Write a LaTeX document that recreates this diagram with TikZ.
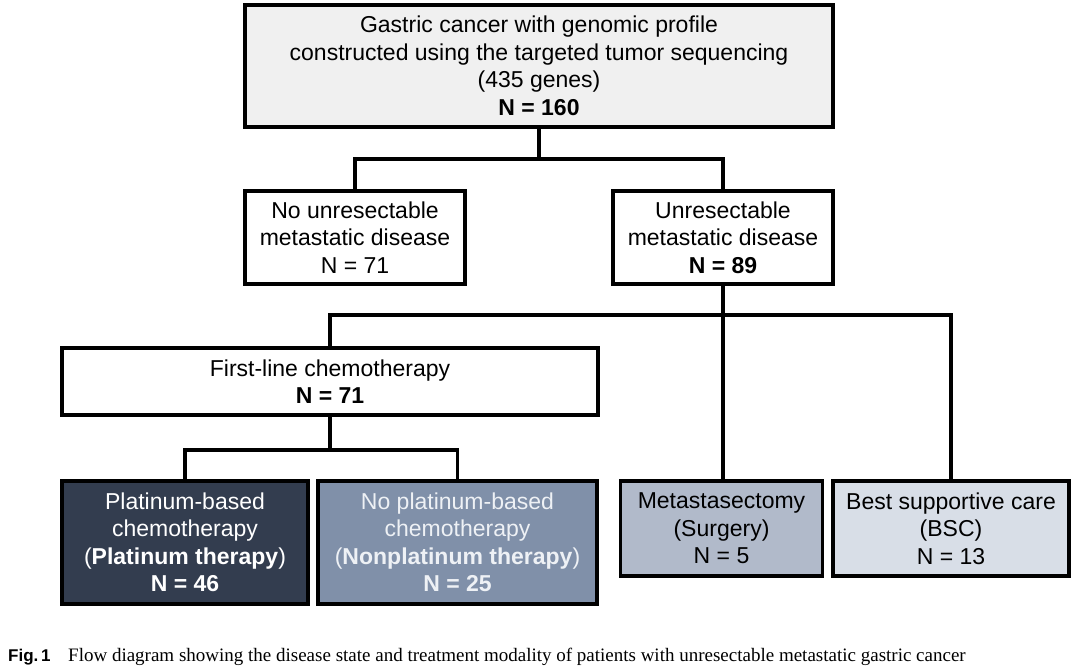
\documentclass[tikz,border=0pt]{standalone}
\usepackage{fontspec}
\setmainfont{Liberation Sans}
\newfontfamily\capfont{Liberation Serif}
\usepackage{tikz}
\pgfdeclarelayer{bg}
\pgfsetlayers{bg,main}
\definecolor{greybox}{HTML}{F0F0F0}
\definecolor{platfill}{HTML}{333D4F}
\definecolor{nonplatfill}{HTML}{8090A9}
\definecolor{surgfill}{HTML}{B1BACA}
\definecolor{bscfill}{HTML}{D8DEE7}
\definecolor{paletext}{HTML}{EEF1F5}
\tikzset{
        box/.style={draw=black, line width=3.2pt, inner sep=0pt, align=center,
                font=\fontsize{23}{27.5}\selectfont},
        link/.style={line width=3.2pt},
}

\begin{document}
\begin{tikzpicture}[x=1pt, y=-1pt]
        \useasboundingbox (0,0) rectangle (1080,668);
        % boxes
        \node (gc) [box, fill=greybox, minimum width=588pt, minimum height=122pt] at (539, 66) {Gastric cancer with genomic profile\\constructed using the targeted tumor sequencing\\(435 genes)\\\textbf{N = 160}};
        \node (noum) [box, fill=white, minimum width=220pt, minimum height=93pt] at (355, 237.5) {No unresectable\\metastatic disease\\N = 71};
        \node (um) [box, fill=white, minimum width=220pt, minimum height=93pt] at (723, 237.5) {Unresectable\\metastatic disease\\\textbf{N = 89}};
        \node (flc) [box, fill=white, minimum width=536pt, minimum height=67pt] at (330, 381.5) {First-line chemotherapy\\\textbf{N = 71}};
        \node (plat) [box, fill=platfill, text=white, minimum width=246pt, minimum height=123pt] at (185, 542.5) {Platinum-based\\chemotherapy\\(\textbf{Platinum therapy})\\\textbf{N = 46}};
        \node (nonplat) [box, fill=nonplatfill, text=paletext, minimum width=279pt, minimum height=123pt] at (457.5, 542.5) {No platinum-based\\chemotherapy\\(\textbf{Nonplatinum therapy})\\\textbf{N = 25}};
        \node (surg) [box, fill=surgfill, text=black, minimum width=202pt, minimum height=95pt] at (721.5, 528.5) {Metastasectomy\\(Surgery)\\N = 5};
        \node (bsc) [box, fill=bscfill, text=black, minimum width=236pt, minimum height=95pt] at (951, 528.5) {Best supportive care\\(BSC)\\N = 13};
        % junctions
        \coordinate (j1) at (539, 159);
        \coordinate (j2) at (723, 315);
        \coordinate (j3) at (330, 450);
        \begin{pgfonlayer}{bg}
                \draw [link] (gc) -- (j1);
                \draw [link] (j1) -| (noum.north);
                \draw [link] (j1) -| (um.north);
                \draw [link] (um) -- (j2);
                \draw [link] (j2) -| (flc.north);
                \draw [link] (j2) -- (j2 |- surg.north);
                \draw [link] (j2) -| (bsc.north);
                \draw [link] (flc) -- (j3);
                \draw [link] (j3) -| (plat.north);
                \draw [link] (j3) -| (nonplat.north);
        \end{pgfonlayer}
        % caption
        \node (figno) [anchor=base west, inner sep=0pt, font=\fontsize{17}{17}\selectfont\bfseries] at (8, 661) {Fig.\,1};
        \node (cap) [anchor=base west, inner sep=0pt, font=\capfont\fontsize{19}{19}\selectfont] at (68, 661) {Flow diagram showing the disease state and treatment modality of patients with unresectable metastatic gastric cancer};
\end{tikzpicture}
\end{document}
